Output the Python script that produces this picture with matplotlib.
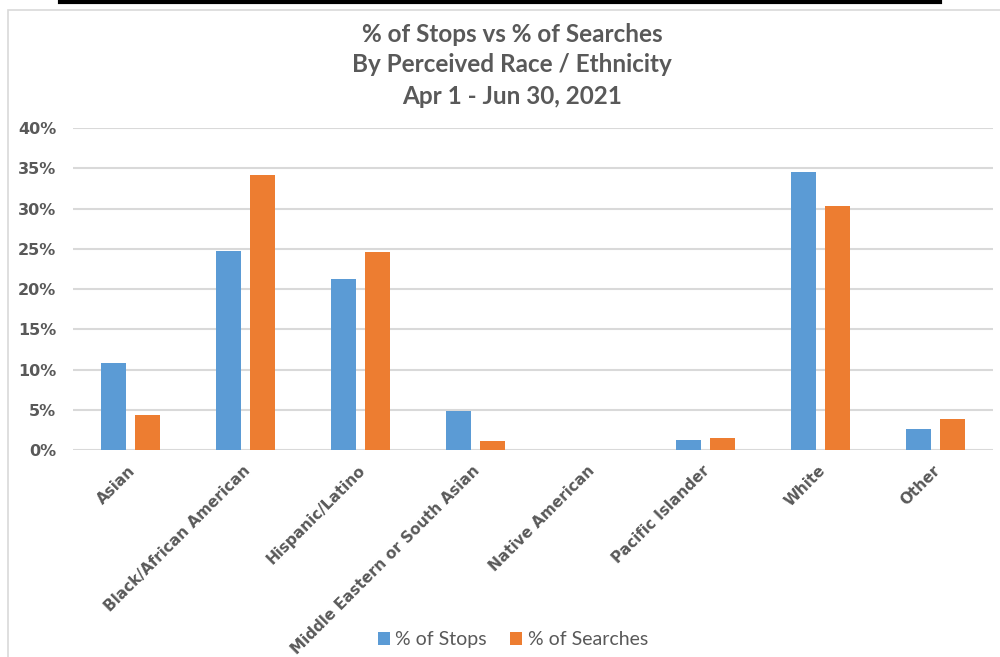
import matplotlib.pyplot as plt
import numpy as np
from matplotlib.patches import Rectangle
from matplotlib.lines import Line2D
import matplotlib.transforms as mtransforms

# data
categories = ['Asian', 'Black/African American', 'Hispanic/Latino',
              'Middle Eastern or South Asian', 'Native American',
              'Pacific Islander', 'White', 'Other']
stops = [10.8, 24.7, 21.2, 4.8, 0.0, 1.2, 34.5, 2.6]
searches = [4.4, 34.2, 24.6, 1.1, 0.0, 1.5, 30.3, 3.9]
yticks = [0, 5, 10, 15, 20, 25, 30, 35, 40]
ytick_labels = ['0%', '5%', '10%', '15%', '20%', '25%', '30%', '35%', '40%']

blue = '#5b9bd5'
orange = '#ed7d31'
grey = '#595959'

fig = plt.figure(figsize=(10, 6.57), dpi=100)
ax = fig.add_axes([0.073, 0.315, 0.92, 0.49])

x = np.arange(len(categories))
w = 0.22
ax.bar(x - 0.145, stops, w, color=blue, label='% of Stops', zorder=3)
ax.bar(x + 0.145, searches, w, color=orange, label='% of Searches', zorder=3)

ax.set_xlim(-0.5, len(categories) - 0.5)
ax.set_ylim(0, 40)
ax.set_yticks(yticks)
ax.set_yticklabels(ytick_labels, fontsize=11.5, fontweight='bold', color=grey)
ax.yaxis.grid(True, color='#d9d9d9', linewidth=1.5, zorder=0)
ax.tick_params(axis='both', length=0)
ax.tick_params(axis='y', pad=12)
for s in ax.spines.values():
    s.set_visible(False)

ax.set_xticks(x)
ax.set_xticklabels(categories, rotation=45, ha='right', rotation_mode='anchor',
                   fontsize=11, fontweight='bold', color=grey)
offset = mtransforms.ScaledTranslation(-0.03, -0.08, fig.dpi_scale_trans)
for lab in ax.get_xticklabels():
    lab.set_transform(lab.get_transform() + offset)

title_kw = dict(ha='center', va='center', fontsize=17.5, fontweight='bold',
                color=grey, family='Lato')
fig.text(0.512, 0.947, '% of Stops vs % of Searches', **title_kw)
fig.text(0.512, 0.902, 'By Perceived Race / Ethnicity', **title_kw)
fig.text(0.512, 0.853, 'Apr 1 - Jun 30, 2021', **title_kw)

fig.legend(loc='center', bbox_to_anchor=(0.513, 0.026), ncol=2, frameon=False,
           prop={'family': 'Lato', 'size': 14}, handlelength=0.6, handleheight=0.6,
           handletextpad=0.3, columnspacing=1.2, labelcolor=grey)

# chart frame and top black bar
fig.patches.append(Rectangle((0.008, -0.01), 1.1, 0.995, transform=fig.transFigure,
                             fill=False, edgecolor='#d9d9d9', linewidth=1.2))
fig.lines.append(Line2D([0.06, 0.94], [0.997, 0.997], transform=fig.transFigure,
                        color='black', linewidth=3))

fig.savefig('out.png', dpi=100, facecolor='white')
